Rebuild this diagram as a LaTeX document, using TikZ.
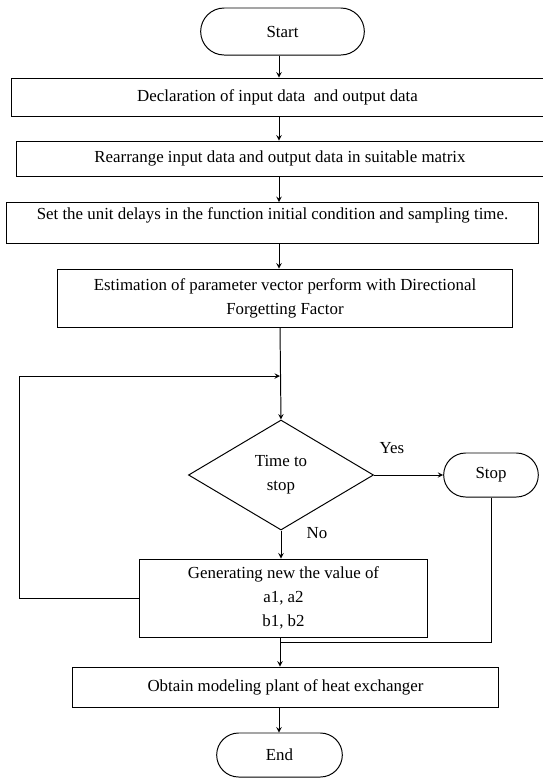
\documentclass[tikz,border=0pt]{standalone}
\usepackage{fontspec}
\setmainfont{Liberation Serif}
\usepackage{tikz}
\usetikzlibrary{shapes, arrows, calc}
\tikzstyle{terminal} = [rounded rectangle, minimum height=1.1cm, text centered, draw=black]
\tikzstyle{process} = [rectangle, minimum height=1cm, text centered, align=center, draw=black]
\tikzstyle{decision} = [diamond, minimum width=4.625cm, minimum height=2.75cm, inner sep=0pt, text centered, align=center, draw=black]
\tikzstyle{arrow} = [->,>=stealth]

\begin{document}
\begin{tikzpicture}[x=0.025cm, y=-0.025cm, line width=0.7pt, font=\fontsize{12}{17}\selectfont]
\useasboundingbox (0,0) rectangle (543,779);

% main column
\coordinate (col) at (279,0);

\node (start) [terminal, minimum width=4.325cm, minimum height=1.175cm] at (282.5,31.5) {Start};
\node (decl) [process, minimum width=13.275cm, minimum height=0.95cm] at (277.5,97) {Declaration of input data \ and output data};
\node (rearr) [process, minimum width=13.15cm, minimum height=0.875cm] at (280,158.5) {Rearrange input data and output data in suitable matrix};
\node (setunit) [process, minimum width=13.275cm, text depth=14pt] at (272.5,223) {Set the unit delays in the function initial condition and sampling time.};
\node (estim) [process, minimum width=11.35cm, minimum height=1.45cm] at (285,298) {Estimation of parameter vector perform with Directional\\Forgetting Factor};
\node (decide) [decision] at (281,475) {Time to\\stop};
\node (stop) [terminal, minimum width=2.6cm] at (491,475) {Stop};
\node (gen) [process, minimum width=7.175cm, minimum height=1.95cm] at (283.5,598) {Generating new the value of\\a1, a2\\b1, b2};
\node (obtain) [process, minimum width=10.625cm] at (285.5,687) {Obtain modeling plant of heat exchanger};
\node (finish) [terminal, minimum width=3.375cm] at (279.5,755) {End};

\node (yes) at (392,448) {Yes};
\node (no) at (317,533) {No};

\coordinate (loopin) at (280,376);
\coordinate (merge) at (280,642);

\draw [arrow] (start.south -| col) -- (decl.north -| col);
\draw [arrow] (decl.south -| col) -- (rearr.north -| col);
\draw [arrow] (rearr.south -| col) -- (setunit.north -| col);
\draw [arrow] (setunit.south -| col) -- (estim.north -| col);
\draw [arrow] (estim.south -| loopin) -- (decide.north);
\draw [arrow] (decide.east) -- (stop.west);
\draw [arrow] (decide.south) -- (gen.north -| decide.south);
\draw [arrow] (gen.west) -- ++(-120,0) |- (loopin);
\draw (stop.south) |- (merge);
\draw [arrow] (gen.south -| merge) -- (obtain.north -| merge);
\draw [arrow] (obtain.south -| col) -- (finish.north -| col);

\end{tikzpicture}
\end{document}
